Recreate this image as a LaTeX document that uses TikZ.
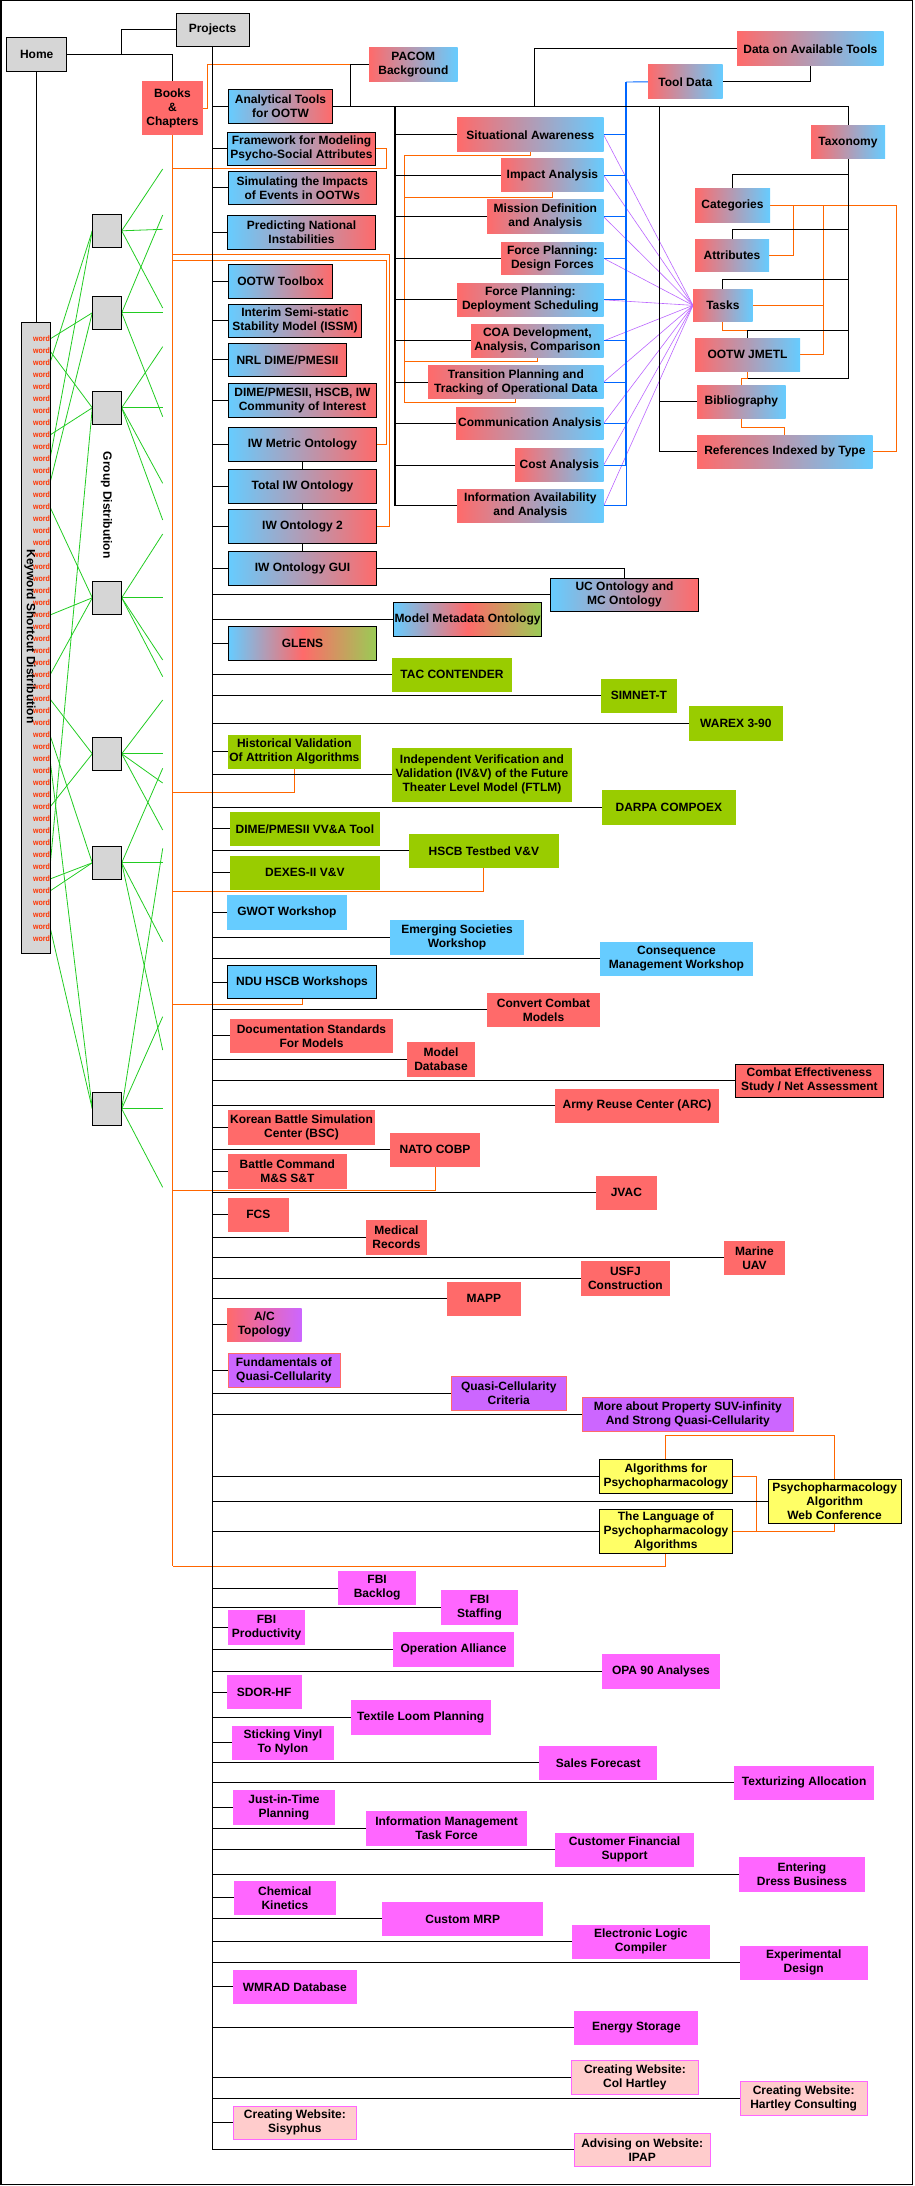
\documentclass[tikz,border=0pt]{standalone}
\usepackage{fontspec}
\setmainfont{Liberation Sans}
\usetikzlibrary{calc,backgrounds}
\definecolor{cgray}{HTML}{D6D6D6}
\definecolor{cred}{HTML}{FF6A6A}
\definecolor{cblue}{HTML}{66CCFF}
\definecolor{cgreen}{HTML}{99CC00}
\definecolor{cgrn}{HTML}{99CC55}
\definecolor{cpurp}{HTML}{CC66FF}
\definecolor{cyel}{HTML}{FFFF66}
\definecolor{cmag}{HTML}{FF66FF}
\definecolor{cpink}{HTML}{FFCCCC}
\definecolor{corange}{HTML}{FF6600}
\definecolor{cgl}{HTML}{22CC22}
\definecolor{cbl}{HTML}{0066FF}
\definecolor{cpl}{HTML}{BB66FF}
\definecolor{cword}{HTML}{FF3300}
\newcommand{\mybox}[7]{%
  \pgfmathsetmacro{\mbw}{#5-#3}%
  \pgfmathsetmacro{\mbh}{#6-#4}%
  \pgfmathsetmacro{\mbx}{(#3+#5)/2}%
  \pgfmathsetmacro{\mby}{(#4+#6)/2}%
  \node[#2, minimum width=\mbw pt, minimum height=\mbh pt] (#1) at (\mbx,\mby) {#7};}
\tikzset{
  bx/.style={inner sep=0pt, outer sep=0pt, align=center, text=black,
    font=\fontsize{12}{14}\selectfont\bfseries},
  bord/.style={draw=black, line width=0.9pt},
  grayb/.style={bx, fill=cgray, bord},
  brB/.style={bx, left color=cblue, right color=cred, bord},
  rbN/.style={bx, left color=cred, right color=cblue},
  brgB/.style={bx, left color=cblue, right color=cgrn, middle color=cred, bord},
  greenb/.style={bx, fill=cgreen},
  blueb/.style={bx, fill=cblue},
  blueB/.style={bx, fill=cblue, bord},
  redb/.style={bx, fill=cred},
  redB/.style={bx, fill=cred, bord},
  rpb/.style={bx, left color=cred, right color=cpurp},
  purpb/.style={bx, fill=cpurp, draw=cred, line width=0.6pt},
  yelB/.style={bx, fill=cyel, bord},
  magb/.style={bx, fill=cmag},
  pinkb/.style={bx, fill=cpink, draw=cmag, line width=0.8pt},
  wd/.style={inner sep=0pt, outer sep=0pt, text=cword, font=\fontsize{8}{8}\selectfont\bfseries},
  ln/.style={draw=black, line width=0.9pt},
  ol/.style={draw=corange, line width=0.9pt},
  gl/.style={draw=cgl, line width=0.8pt},
  bl/.style={draw=cbl, line width=0.9pt},
  plv/.style={draw=cpl, line width=0.6pt}
}
\begin{document}
\begin{tikzpicture}[x=1pt,y=-1pt]
\useasboundingbox (0,0) rectangle (914,2186);
\draw[line width=1.5pt] (0.75,0.75) rectangle (912.5,2184.5);

% gray
\mybox{HM}{grayb}{6.7}{37.3}{66.7}{71.3}{Home}
\mybox{PR}{grayb}{176}{13.3}{249}{46}{Projects}
\mybox{KW}{grayb}{21.3}{322.3}{50.7}{953}{}
\mybox{G1}{grayb}{92.3}{214.3}{121.7}{247.3}{}
\mybox{G2}{grayb}{92.3}{296.3}{121.7}{329.3}{}
\mybox{G3}{grayb}{92.3}{391.3}{121.7}{424.3}{}
\mybox{G4}{grayb}{92.3}{581.3}{121.7}{614.3}{}
\mybox{G5}{grayb}{92.3}{737.3}{121.7}{770.3}{}
\mybox{G6}{grayb}{92.3}{846.3}{121.7}{879.3}{}
\mybox{G7}{grayb}{92.3}{1092.3}{121.7}{1125.3}{}
\foreach \i in {0,...,50} {
  \pgfmathsetmacro{\wy}{339+12*\i}
  \node[wd, anchor=east] (w\i) at (50,\wy) {\scalebox{0.88}[1]{word}};
}
\node[bx, rotate=-90] (KWlbl) at (30,636.5) {Keyword Shortcut Distribution};
\node[bx, rotate=-90] (GDlbl) at (106.5,505.3) {Group Distribution};

\mybox{BK}{redb}{142}{81}{203}{135}{Books\\\&\\Chapters}
\mybox{PA}{rbN}{369}{48}{457.7}{81.7}{PACOM\\Background}

% left column
\mybox{A1}{brB}{228.3}{89.3}{332.7}{123.3}{Analytical Tools\\for OOTW}
\mybox{A2}{brB}{227.3}{132.3}{375.7}{165.3}{Framework for Modeling\\Psycho-Social Attributes}
\mybox{A3}{brB}{228.3}{171.3}{376.3}{204.3}{Simulating the Impacts\\of Events in OOTWs}
\mybox{A4}{brB}{227.3}{215}{375.7}{249.3}{Predicting National\\Instabilities}
\mybox{A5}{brB}{228.3}{264.3}{332.7}{298}{OOTW Toolbox}
\mybox{A6}{brB}{228.3}{304.3}{361.7}{337.3}{Interim Semi-static\\Stability Model (ISSM)}
\mybox{A7}{brB}{228.3}{343.3}{346.7}{376.3}{NRL DIME/PMESII}
\mybox{A8}{brB}{228.3}{383.3}{376.7}{417.3}{DIME/PMESII, HSCB, IW\\Community of Interest}
\mybox{A9}{brB}{228.3}{427.3}{376.7}{461.3}{IW Metric Ontology}
\mybox{A10}{brB}{228.3}{469.3}{376.7}{503.3}{Total IW Ontology}
\mybox{A11}{brB}{228.3}{509.3}{376.7}{543.3}{IW Ontology 2}
\mybox{A12}{brB}{228.3}{551.3}{376.7}{585.3}{IW Ontology GUI}

% middle column
\mybox{M1}{rbN}{457}{118}{603.7}{151.7}{Situational Awareness}
\mybox{M2}{rbN}{501}{159}{603.7}{191.7}{Impact Analysis}
\mybox{M3}{rbN}{487}{200}{603.7}{233.7}{Mission Definition\\and Analysis}
\mybox{M4}{rbN}{501}{242}{603.7}{274.7}{Force Planning:\\Design Forces}
\mybox{M5}{rbN}{457}{283}{603.7}{316.7}{Force Planning:\\Deployment Scheduling}
\mybox{M6}{rbN}{471}{324}{603.7}{357.7}{COA Development,\\Analysis, Comparison}
\mybox{M7}{rbN}{428}{365.3}{603.7}{398.7}{Transition Planning and\\Tracking of Operational Data}
\mybox{M8}{rbN}{456}{407}{603.7}{439.7}{Communication Analysis}
\mybox{M9}{rbN}{515}{448.3}{603.7}{481.7}{Cost Analysis}
\mybox{M10}{rbN}{457}{489}{603.7}{522.7}{Information Availability\\and Analysis}

% right cluster
\mybox{DT}{rbN}{737}{32}{883.7}{65.7}{Data on Available Tools}
\mybox{TD}{rbN}{648}{65}{722.7}{98.7}{Tool Data}
\mybox{TX}{rbN}{811}{126}{885}{158.7}{Taxonomy}
\mybox{CA}{rbN}{695}{189}{770}{222.7}{Categories}
\mybox{AT}{rbN}{695}{239}{769}{271.7}{Attributes}
\mybox{TK}{rbN}{693}{289}{752.7}{321.7}{Tasks}
\mybox{JM}{rbN}{695}{338}{800}{371.7}{OOTW JMETL}
\mybox{BI}{rbN}{697}{385}{785.7}{418.7}{Bibliography}
\mybox{RF}{rbN}{697}{435}{872.7}{468.7}{References Indexed by Type}

% lower section
\mybox{UC}{brB}{550.3}{578.3}{698.7}{611.3}{UC Ontology and\\MC Ontology}
\mybox{MM}{brgB}{393.3}{602.7}{541.7}{636.3}{Model Metadata Ontology}
\mybox{GL}{brgB}{228.3}{626.3}{376.7}{660.3}{GLENS}
\mybox{TAC}{greenb}{392}{658}{512}{691.7}{TAC CONTENDER}
\mybox{SIM}{greenb}{601}{679}{676.7}{712.7}{SIMNET-T}
\mybox{WAR}{greenb}{689}{706}{782.7}{740.7}{WAREX 3-90}
\mybox{HV}{greenb}{228}{735}{360.7}{768.7}{Historical Validation\\Of Attrition Algorithms}
\mybox{IVV}{greenb}{392}{748}{572}{801.7}{Independent Verification and\\Validation (IV\&V) of the Future\\Theater Level Model (FTLM)}
\mybox{DAR}{greenb}{602}{790}{735.7}{824.7}{DARPA COMPOEX}
\mybox{DVV}{greenb}{230}{812}{379.7}{845.7}{DIME/PMESII VV\&A Tool}
\mybox{HT}{greenb}{409}{834}{558.7}{867.7}{HSCB Testbed V\&V}
\mybox{DX}{greenb}{230}{856}{379.7}{889.7}{DEXES-II V\&V}
\mybox{GW}{blueb}{227}{895}{346.7}{929.7}{GWOT Workshop}
\mybox{ES}{blueb}{390}{920}{524}{954.7}{Emerging Societies\\Workshop}
\mybox{CM}{blueb}{600}{942}{753}{975.7}{Consequence\\Management Workshop}
\mybox{NDU}{blueB}{227.3}{965.3}{376.7}{998.7}{NDU HSCB Workshops}
\mybox{CC}{redb}{487}{993}{600}{1026.7}{Convert Combat\\Models}
\mybox{DS}{redb}{230}{1019}{393}{1052.7}{Documentation Standards\\For Models}
\mybox{MD}{redb}{407.3}{1042}{474.7}{1076.7}{Model\\Database}
\mybox{CE}{redB}{735}{1064.3}{883.7}{1097.3}{Combat Effectiveness\\Study / Net Assessment}
\mybox{ARC}{redb}{555}{1089}{719}{1122.7}{Army Reuse Center (ARC)}
\mybox{KB}{redb}{228}{1110}{375}{1144.7}{Korean Battle Simulation\\Center (BSC)}
\mybox{NC}{redb}{390}{1133}{480}{1166.7}{NATO COBP}
\mybox{BC}{redb}{228}{1154}{346.7}{1188.7}{Battle Command\\M\&S S\&T}
\mybox{JV}{redb}{596}{1176}{656.7}{1209.7}{JVAC}
\mybox{FCS}{redb}{228}{1198}{288.7}{1231.7}{FCS}
\mybox{MR}{redb}{366}{1220}{427}{1254.7}{Medical\\Records}
\mybox{MU}{redb}{724}{1241}{785}{1274.7}{Marine\\UAV}
\mybox{US}{redb}{581}{1261.3}{669.7}{1295.7}{USFJ\\Construction}
\mybox{MP}{redb}{447}{1282}{520.7}{1315.7}{MAPP}
\mybox{AC}{rpb}{227}{1308}{301.7}{1341.7}{A/C\\Topology}
\mybox{FQ}{purpb}{228}{1353}{339.8}{1387.7}{Fundamentals of\\Quasi-Cellularity}
\mybox{QC}{purpb}{451.5}{1376.3}{566}{1410.7}{Quasi-Cellularity\\Criteria}
\mybox{MA}{purpb}{582.2}{1397}{793.4}{1431.7}{More about Property SUV-infinity\\And Strong Quasi-Cellularity}
\mybox{AP}{yelB}{599.8}{1459.3}{732}{1493.7}{Algorithms for\\Psychopharmacology}
\mybox{WC}{yelB}{768}{1479.3}{901.2}{1523.3}{Psychopharmacology\\Algorithm\\Web Conference}
\mybox{LP}{yelB}{599.8}{1509.3}{732}{1553.3}{The Language of\\Psychopharmacology\\Algorithms}
\mybox{FB}{magb}{338.3}{1571}{415.9}{1605}{FBI\\Backlog}
\mybox{FS}{magb}{441.2}{1590}{517.8}{1624.7}{FBI\\Staffing}
\mybox{FP}{magb}{228}{1610}{305.1}{1644.7}{FBI\\Productivity}
\mybox{OA}{magb}{393.4}{1632}{513.9}{1666.7}{Operation Alliance}
\mybox{OPA}{magb}{601.7}{1654}{720.2}{1688.7}{OPA 90 Analyses}
\mybox{SD}{magb}{226.6}{1675.3}{301.7}{1709.3}{SDOR-HF}
\mybox{TL}{magb}{350.5}{1700}{491}{1734.7}{Textile Loom Planning}
\mybox{SV}{magb}{232}{1726}{333.9}{1759.7}{Sticking Vinyl\\To Nylon}
\mybox{SF}{magb}{539.3}{1746}{657.3}{1779.7}{Sales Forecast}
\mybox{TA}{magb}{733.9}{1766}{874.4}{1799.7}{Texturizing Allocation}
\mybox{JT}{magb}{232.9}{1790}{334.9}{1824.7}{Just-in-Time\\Planning}
\mybox{IM}{magb}{366.1}{1811}{527.1}{1845.7}{Information Management\\Task Force}
\mybox{CF}{magb}{555.4}{1833}{693.9}{1866.7}{Customer Financial\\Support}
\mybox{ED}{magb}{738.8}{1857}{865.1}{1891.7}{Entering\\Dress Business}
\mybox{CK}{magb}{233.9}{1881}{335.9}{1914.7}{Chemical\\Kinetics}
\mybox{MRP}{magb}{382.2}{1902}{543.2}{1935.7}{Custom MRP}
\mybox{EL}{magb}{571.5}{1925}{710}{1958.7}{Electronic Logic\\Compiler}
\mybox{EX}{magb}{739.8}{1946}{867.6}{1979.7}{Experimental\\Design}
\mybox{WM}{magb}{232.9}{1970}{356.8}{2003.7}{WMRAD Database}
\mybox{EN}{magb}{574.4}{2011}{698.3}{2044.7}{Energy Storage}
\mybox{CH}{pinkb}{571.5}{2060.3}{698.3}{2094.3}{Creating Website:\\Col Hartley}
\mybox{HC}{pinkb}{740.2}{2081.3}{867.1}{2115.3}{Creating Website:\\Hartley Consulting}
\mybox{SY}{pinkb}{232.9}{2106.3}{356.8}{2139.3}{Creating Website:\\Sisyphus}
\mybox{IP}{pinkb}{574.4}{2133.3}{710}{2166.3}{Advising on Website:\\IPAP}

% named coordinates
\coordinate (J1) at (534.3,106.3);
\coordinate (J2) at (350,106.3);
\coordinate (J3) at (659.3,106.3);
\coordinate (J4) at (395,106.3);
\coordinate (BX) at (626,82);
\coordinate (OX1) at (404.3,155.3);
\coordinate (o2) at (404.3,197.3);
\coordinate (o6) at (404.3,361);
\coordinate (OX2) at (404.3,402.3);
\coordinate (ob1) at (172.5,168.3);
\coordinate (ob2) at (172.5,254.3);
\coordinate (ob3) at (172.5,260.3);
\coordinate (ob4) at (172.5,792);
\coordinate (ob5) at (172.5,891.3);
\coordinate (ob6) at (172.5,1004);
\coordinate (ob7) at (172.5,1190);
\coordinate (ob8) at (172.5,1566.3);
\coordinate (GR) at (162.7,0);

\begin{pgfonlayer}{background}
% green group distribution
\foreach \g/\ys/\ws in {G1/{169,229.3,308}/{2,10},
                        G2/{215,312.8,416.7}/{0,12},
                        G3/{346.7,407.8,483.3,520}/{1,8,44},
                        G4/{534,597.8,660,676.7}/{14,23,28},
                        G5/{700,753.8,783,830}/{30,39},
                        G6/{768.3,862.8,941.7,1050}/{33,45,46},
                        G7/{848.4,1016.7,1108.8,1187.3}/{35,49}} {
  \foreach \yy in \ys { \draw[gl] (\g.east) -- ($(GR)+(0,\yy)$); }
  \foreach \ii in \ws { \draw[gl] (\g.west) -- (w\ii.east); }
}

% orange
\draw[ol] (BK.east) -- ++(4.5,0) |- (J2 |- PA.west);
\draw[ol] (BK.south) -- (ob8);
\draw[ol] (A2.east) -- ++(11,0) |- (ob1);
\draw[ol] (A11.east) -- ++(12.6,0) |- (ob2);
\draw[ol] (A9.east) -- ++(9.3,0) |- (ob3);
\draw[ol] (HV.south) |- (ob4);
\draw[ol] (HT.south) |- (ob5);
\draw[ol] (NDU.south) |- (ob6);
\draw[ol] (NC.south) |- (ob7);
\draw[ol] (LP.south) |- (ob8);
\draw[ol] (OX1) -- (OX2);
\draw[ol] (M1.south) |- (OX1);
\draw[ol] (M2.south) |- (o2);
\draw[ol] (M6.south) |- (o6);
\draw[ol] (M7.south) |- (OX2);
\draw[ol] (AP.north) -- ++(0,-23.6) -| (WC.north);
\draw[ol] (AP.east) -- ++(24.3,0) |- (LP.east);
\draw[ol] (LP.east) -| (WC.south);
\draw[ol] (TK.south) -- ++(0,8.6) -| (JM.north);
\draw[ol] (JM.south) -- ++(0,6.6) -| (BI.north);
\draw[ol] (BI.south) -- ++(0,8.3) -| (RF.north);
\draw[ol] (CA.east) -- ++(126.7,0) |- (RF.east);
\draw[ol] (AT.east) -- ++(24.3,0) |- (CA.east);
\draw[ol] (JM.east) -- ++(23.3,0) |- (CA.east);
\draw[ol] (TK.east) -- ++(70.6,0);

% purple to Tasks
\foreach \m in {M1,M2,M3,M4,M5,M6,M7,M8,M9,M10} { \draw[plv] (\m.east) -- (TK.west); }

% blue bus
\draw[bl] (TD.west) -- (BX);
\draw[bl, line width=1.8pt] (BX) -- (BX |- M9.east);
\draw[bl] (BX |- M9.east) -- (BX |- M10.east);
\foreach \m in {M1,M2,M3,M4,M5,M6,M7,M8,M9,M10} { \draw[bl] (\m.east) -- (BX |- \m.east); }

% black
\draw[ln] (HM.east) -- ++(54.6,0) |- (PR.west);
\draw[ln] (HM.east) -| (BK.north);
\draw[ln] (HM.south) -- (HM.south |- KW.north);
\draw[ln] (PR.south) -- (PR.south |- IP.west);
\foreach \n in {A1,A2,A3,A4,A5,A6,A7,A8,A9,A10,A11,A12,UC,MM,GL,TAC,SIM,WAR,HV,IVV,DAR,DVV,HT,DX,GW,ES,CM,NDU,CC,DS,MD,CE,ARC,KB,NC,BC,JV,FCS,MR,MU,US,MP,AC,FQ,QC,MA,AP,WC,LP,FB,FS,FP,OA,OPA,SD,TL,SV,SF,TA,JT,IM,CF,ED,CK,MRP,EL,EX,WM,EN,CH,HC,SY,IP}
  { \draw[ln] (PR.south |- \n.west) -- (\n.west); }
\draw[ln] (A9.south) -- (A10.north);
\draw[ln] (A10.south) -- (A11.north);
\draw[ln] (A11.south) -- (A12.north);
\draw[ln] (A12.east) -| (UC.north);
\draw[ln] (A1.east) -| (TX.north);
\draw[ln] (J1) |- (DT.west);
\draw[ln] (PA.west) -| (J2);
\draw[ln] (TD.east) -| (DT.south);
\draw[ln, line width=1.8pt] (J4) -- (J4 |- M10.west);
\foreach \m in {M1,M2,M3,M4,M5,M6,M7,M8,M9,M10} { \draw[ln] (J4 |- \m.west) -- (\m.west); }
\draw[ln] (J3) |- (RF.west);
\draw[ln] (J3 |- BI.west) -- (BI.west);
\draw[ln] (CA.north) -- ++(0,-14.7) -| (TX.south);
\draw[ln] (AT.north) -- ++(0,-9.7) -| (TX.south);
\draw[ln] (TK.north) -- ++(0,-9.7) -| (TX.south);
\draw[ln] (JM.north) -- ++(0,-7.7) -| (TX.south);
\draw[ln] (JM.south) ++(0,6.6) -| (TX.south);
\end{pgfonlayer}
\end{tikzpicture}
\end{document}
